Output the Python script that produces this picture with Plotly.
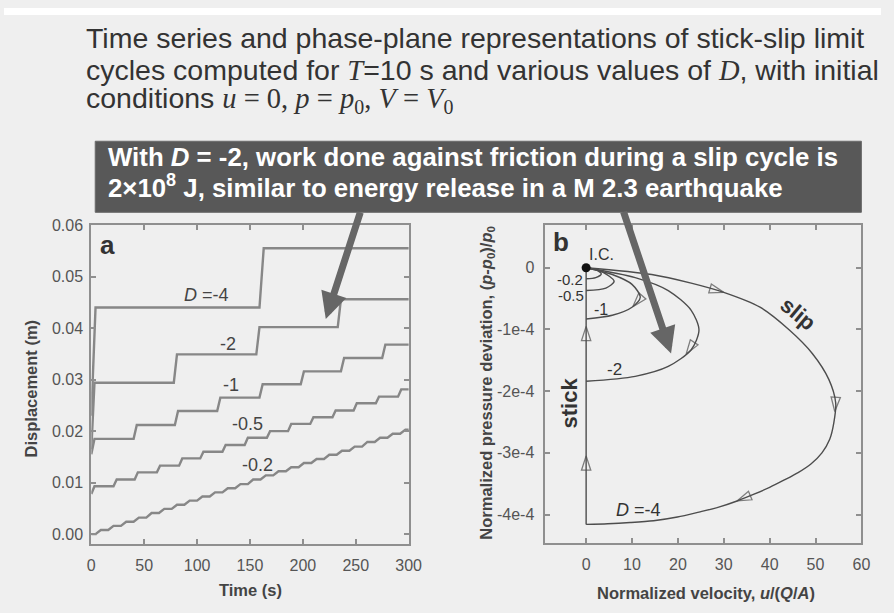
import numpy as np
import plotly.graph_objects as go

SANS = "Liberation Sans, Arial, sans-serif"

# ---------------- Panel a : displacement time series (step-like) ----------------
t_max = 300
start_disp = {"-4": 0.0230, "-2": 0.0165, "-1": 0.0155, "-0.5": 0.0078, "-0.2": 0.0000}

d4_levels = [0.0440, 0.0555]
d4_jumps = [159]

d2_levels = [0.0294, 0.0349, 0.0402, 0.0456]
d2_jumps = [78, 156, 233]

d1_levels = [0.0185, 0.0212, 0.0239, 0.0265, 0.0291, 0.0316, 0.0342, 0.0368]
d1_jumps = [40, 79, 119, 159, 198, 236, 275]

d05_levels = [0.0093, 0.0106, 0.0120, 0.0133, 0.0147, 0.0160, 0.0173, 0.0187,
              0.0200, 0.0214, 0.0227, 0.0240, 0.0254, 0.0267, 0.0281]
d05_jumps = [21, 41, 62, 83, 103, 124, 145, 166, 186, 207, 228, 248, 269, 290]

d02_levels = [0.0000, 0.0008, 0.0016, 0.0024, 0.0032, 0.0041, 0.0049, 0.0057,
              0.0065, 0.0073, 0.0081, 0.0089, 0.0097, 0.0106, 0.0114, 0.0122,
              0.0130, 0.0138, 0.0146, 0.0154, 0.0162, 0.0170, 0.0179, 0.0187,
              0.0195, 0.0203]
d02_jumps = [4, 16, 28, 40, 52, 64, 76, 88, 100, 112, 124, 136, 148, 160, 172,
             184, 196, 208, 220, 232, 244, 256, 268, 280, 292]

# ---------------- Panel b : phase plane (velocity, pressure deviation in units of 1e-4) ----------------
d4_v = [0, 14.3, 22.9, 30.0, 37.9, 44.3, 49.3, 52.9, 54.4, 54.0, 53.1, 51.4, 49.0, 46.2, 43.2,
        40.0, 36.6, 32.9, 28.9, 24.6, 19.9, 14.7, 9.6, 4.7, 0]
d4_p = [0, -0.11, -0.25, -0.40, -0.64, -1.01, -1.39, -1.81, -2.19, -2.51, -2.78, -3.00, -3.18, -3.32, -3.44,
        -3.56, -3.67, -3.78, -3.88, -3.96, -4.04, -4.10, -4.13, -4.15, -4.16]

d2_v = [0, 10.7, 17.9, 22.9, 24.6, 22.9, 17.9, 10.7, 0]
d2_p = [0, -0.16, -0.37, -0.69, -1.01, -1.33, -1.60, -1.76, -1.84]

d1_v = [0, 5.7, 10.0, 11.8, 10.0, 5.7, 0]
d1_p = [0, -0.11, -0.27, -0.48, -0.64, -0.77, -0.83]

d05_v = [0, 3.6, 6.1, 4.3, 0]
d05_p = [0, -0.07, -0.22, -0.33, -0.37]

d02_v = [0, 2.1, 3.3, 2.1, 0]
d02_p = [0, -0.03, -0.10, -0.16, -0.18]

stick_v = [0, 0]
stick_p = [-4.16, 0]

# arrowheads on the phase curves: (tail, tip) pairs in data units
arrow_v = [24.0, 30.0, 54.5, 54.2, 40.0, 32.9, 23.8, 21.8, 11.5, 10.2, 0, 0, 0, 0]
arrow_p = [-0.27, -0.40, -2.00, -2.33, -3.56, -3.78, -1.18, -1.40, -0.52, -0.63, -1.30, -0.95, -3.40, -3.05]

SCALE_P = 1e-4

fig = go.Figure()

A_COLOR = "#878787"
B_COLOR = "#4d4d4d"


def step_path(start, levels, jumps, rise):
    t = [0, rise]
    u = [start, levels[0]]
    for i, tj in enumerate(jumps):
        t += [tj, tj + rise]
        u += [levels[i], levels[i + 1]]
    t.append(t_max)
    u.append(levels[-1])
    return t, u


for key, lv, jp, rise in [("-4", d4_levels, d4_jumps, 4), ("-2", d2_levels, d2_jumps, 3),
                          ("-1", d1_levels, d1_jumps, 3), ("-0.5", d05_levels, d05_jumps, 3),
                          ("-0.2", d02_levels, d02_jumps, 5)]:
    t, u = step_path(start_disp[key], lv, jp, rise)
    fig.add_trace(go.Scatter(x=t, y=u, mode="lines", name="D=" + key,
                             line=dict(color=A_COLOR, width=2.4),
                             xaxis="x", yaxis="y", hoverinfo="skip"))

for key, vv, pp in [("-4", d4_v, d4_p), ("-2", d2_v, d2_p), ("-1", d1_v, d1_p),
                    ("-0.5", d05_v, d05_p), ("-0.2", d02_v, d02_p)]:
    fig.add_trace(go.Scatter(x=vv, y=np.array(pp) * SCALE_P, mode="lines", name="D=" + key,
                             line=dict(color=B_COLOR, width=1.4, shape="spline", smoothing=0.8),
                             xaxis="x2", yaxis="y2", hoverinfo="skip"))

fig.add_trace(go.Scatter(x=stick_v, y=np.array(stick_p) * SCALE_P, mode="lines", name="stick",
                         line=dict(color=B_COLOR, width=1.4), xaxis="x2", yaxis="y2"))

# arrowheads
sizes = [0, 15] * (len(arrow_v) // 2)
fig.add_trace(go.Scatter(x=arrow_v, y=np.array(arrow_p) * SCALE_P, mode="markers",
                         marker=dict(symbol="arrow-open", size=sizes, angleref="previous",
                                     color=B_COLOR, line=dict(color=B_COLOR, width=1.3)),
                         xaxis="x2", yaxis="y2", hoverinfo="skip"))

# initial condition dot
fig.add_trace(go.Scatter(x=[0], y=[0], mode="markers",
                         marker=dict(color="#111", size=9), xaxis="x2", yaxis="y2"))

W, H = 894, 613


def px(x):
    return x / W


def py(y):
    return 1 - y / H


axis_common = dict(showline=True, linecolor="#8f8f8f", linewidth=2, mirror="ticks",
                   ticks="inside", ticklen=5, tickcolor="#8f8f8f", tickwidth=1.5,
                   showgrid=False, zeroline=False,
                   tickfont=dict(family=SANS, size=16, color="#555"))

fig.update_layout(
    width=W, height=H, margin=dict(l=0, r=0, t=0, b=0),
    paper_bgcolor="#efefef", plot_bgcolor="#efefef", showlegend=False,
    xaxis=dict(domain=[px(89), px(413)], range=[0, 300.5], tickvals=[0, 50, 100, 150, 200, 250, 300],
               ticklabelstandoff=6, anchor="y", **axis_common),
    yaxis=dict(domain=[py(543), py(220)], range=[-0.0019, 0.06],
               tickvals=[0, 0.01, 0.02, 0.03, 0.04, 0.05, 0.06], tickformat=".2f",
               ticklabelstandoff=3, anchor="x", **axis_common),
    xaxis2=dict(domain=[px(551), px(874)], range=[-9.07, 60], tickvals=[0, 10, 20, 30, 40, 50, 60],
                ticklabelstandoff=6, anchor="y2", **axis_common),
    yaxis2=dict(domain=[py(542), py(220)], range=[-4.46e-4, 0.69e-4],
                tickvals=[0, -1e-4, -2e-4, -3e-4, -4e-4],
                ticktext=["0", "-1e-4", "-2e-4", "-3e-4", "-4e-4"],
                ticklabelstandoff=5, anchor="x2", **axis_common),
)

shapes = [
    dict(type="rect", xref="paper", yref="paper", x0=0, x1=1, y0=py(7), y1=1,
         fillcolor="white", line=dict(width=0), layer="below"),
    dict(type="rect", xref="paper", yref="paper", x0=px(93), x1=px(874), y0=py(207), y1=py(135),
         fillcolor="#585858", line=dict(color="#6a6a6a", width=1)),
]
fig.update_layout(shapes=shapes)

ann = []
TCOL = "#333"
SER = "<span style='font-family:Liberation Serif'>"
title_lines = [
    (30, "Time series and phase-plane representations of stick-slip limit"),
    (63, "cycles computed for " + SER + "<i>T</i></span>=10 s and various values of "
         + SER + "<i>D</i></span>, with initial"),
    (93, "conditions " + SER + "<i>u</i> = 0, <i>p</i> = <i>p</i><sub>0</sub>, "
         "<i>V</i> = <i>V</i><sub>0</sub></span>"),
]
for yy, txt in title_lines:
    ann.append(dict(text=txt, x=px(82), y=py(yy), xref="paper", yref="paper", xanchor="left",
                    yanchor="middle", showarrow=False, font=dict(family=SANS, size=28.5, color=TCOL)))

box_lines = [
    (151, "With <i>D</i> = -2, work done against friction during a slip cycle is"),
    (180, "2×10<sup>8</sup> J, similar to energy release in a M 2.3 earthquake"),
]
for yy, txt in box_lines:
    ann.append(dict(text="<b>" + txt + "</b>", x=px(104), y=py(yy), xref="paper", yref="paper",
                    xanchor="left", yanchor="middle", showarrow=False,
                    font=dict(family=SANS, size=25.8, color="white")))

# big pointer arrows from the box
ann.append(dict(text="", x=px(328), y=py(315), xref="paper", yref="paper", ax=35, ay=-108,
                showarrow=True, arrowhead=2, arrowsize=0.75, arrowwidth=7, arrowcolor="#666"))
ann.append(dict(text="", x=px(680), y=py(350), xref="paper", yref="paper", ax=-48, ay=-143,
                showarrow=True, arrowhead=2, arrowsize=0.75, arrowwidth=7, arrowcolor="#666"))


def pann(text, x, y, size, angle=0, color="#444"):
    return dict(text=text, x=px(x), y=py(y), xref="paper", yref="paper", xanchor="center",
                yanchor="middle", textangle=angle, showarrow=False,
                font=dict(family=SANS, size=size, color=color))


# axis titles
ann.append(pann("<b>Displacement (m)</b>", 27, 385, 16.5, -90))
ann.append(pann("<b>Time (s)</b>", 251, 590, 16.5))
ann.append(pann("<b>Normalized velocity, <i>u</i>/(<i>Q</i>/<i>A</i>)</b>", 716, 593, 16.5))
ann.append(pann("<b>Normalized pressure deviation, (<i>p</i>-<i>p</i><sub>0</sub>)/<i>p</i><sub>0</sub></b>",
                492, 380, 16.5, -90))

# panel letters
ann.append(pann("<b>a</b>", 106, 240, 26, 0, TCOL))
ann.append(pann("<b>b</b>", 568, 237, 26, 0, TCOL))

# panel a curve labels
lab_a = [("<i>D</i> =-4", 109, 0.0464), ("-2", 129, 0.0370), ("-1", 132.5, 0.0289),
         ("-0.5", 147.5, 0.0213), ("-0.2", 157.5, 0.0134)]
for txt, xx, yy in lab_a:
    ann.append(dict(text=txt, x=xx, y=yy, xref="x", yref="y", showarrow=False,
                    xanchor="center", yanchor="middle",
                    font=dict(family=SANS, size=18, color="#444")))

# panel b labels
lab_b = [("I.C.", 3.4, 0.21, 16), ("-0.2", -3.6, -0.19, 15), ("-0.5", -3.4, -0.45, 15),
         ("-1", 3.2, -0.67, 16), ("-2", 6.1, -1.65, 17), ("<i>D</i> =-4", 11.4, -3.92, 18)]
for txt, xx, yy, fs in lab_b:
    ann.append(dict(text=txt, x=xx, y=yy * SCALE_P, xref="x2", yref="y2", showarrow=False,
                    xanchor="center", yanchor="middle",
                    font=dict(family=SANS, size=fs, color="#333")))
ann.append(dict(text="<b>slip</b>", x=46.1, y=-0.75 * SCALE_P, xref="x2", yref="y2", showarrow=False,
                xanchor="center", yanchor="middle",
                textangle=40, font=dict(family=SANS, size=22, color="#333")))
ann.append(dict(text="<b>stick</b>", x=-3.6, y=-2.19 * SCALE_P, xref="x2", yref="y2", showarrow=False,
                xanchor="center", yanchor="middle",
                textangle=-90, font=dict(family=SANS, size=22, color="#333")))

fig.update_layout(annotations=ann)
fig.write_html("out.html")
